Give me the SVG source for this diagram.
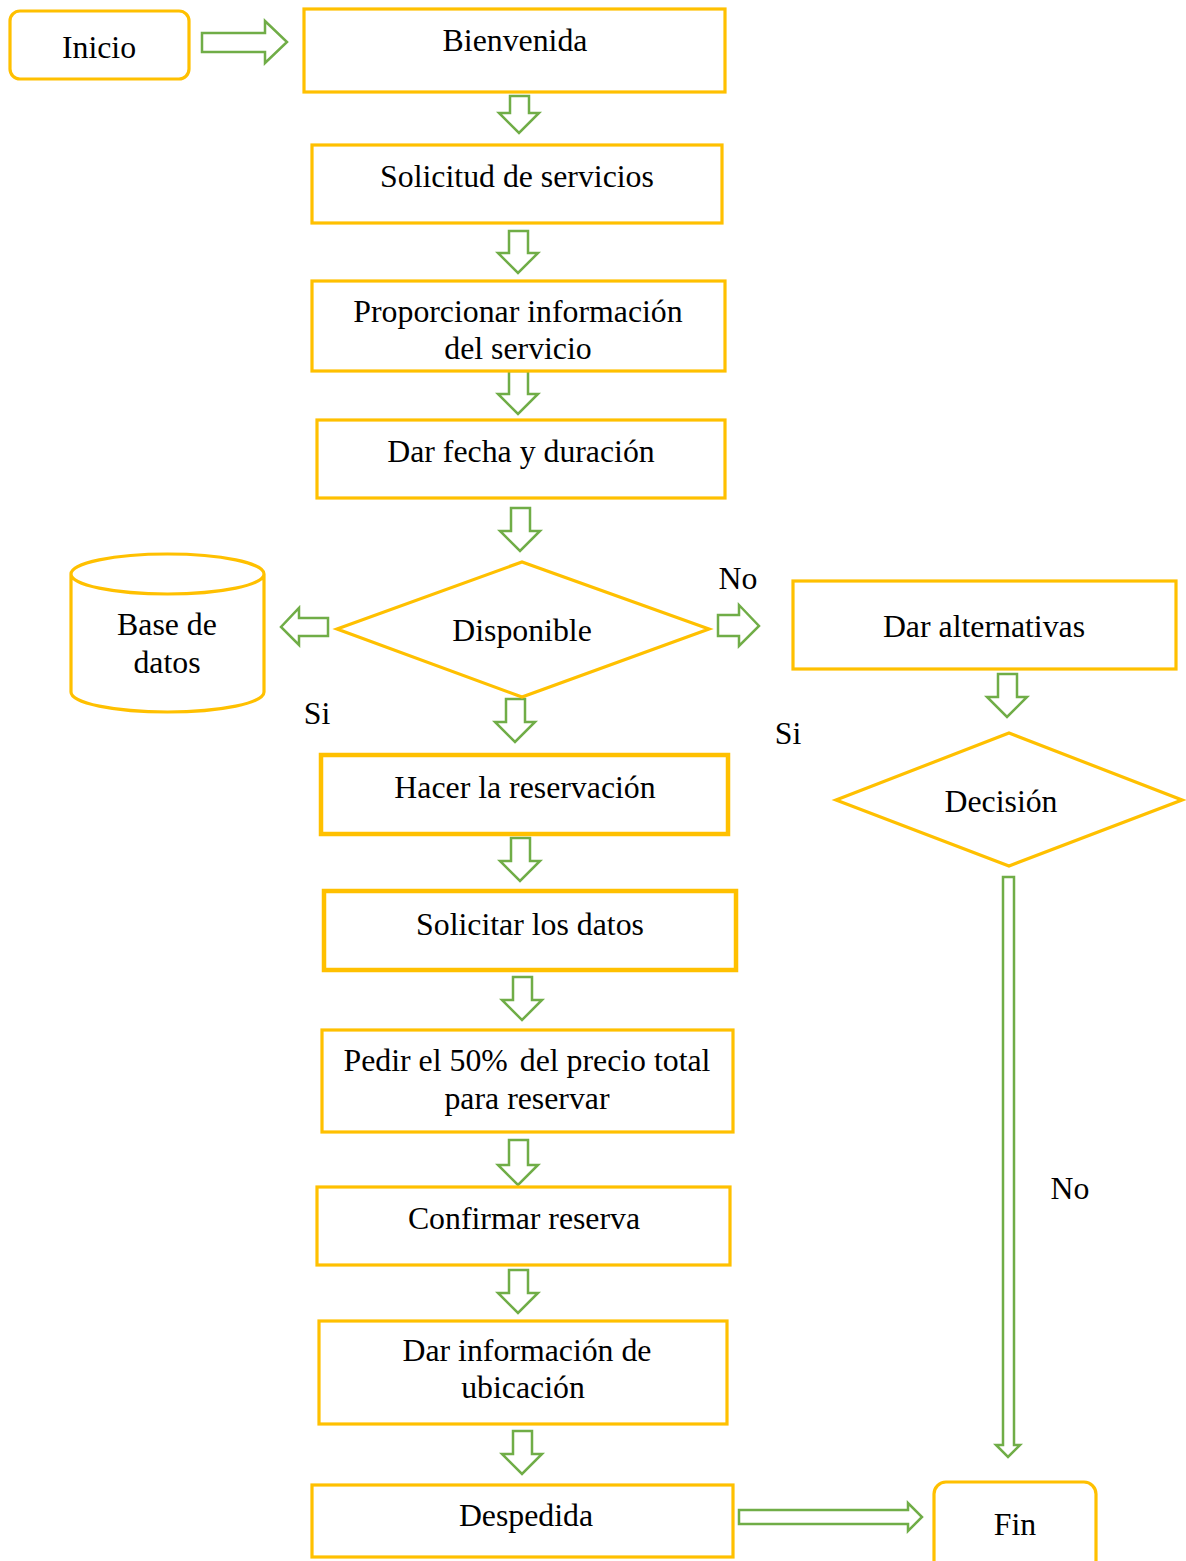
<svg xmlns="http://www.w3.org/2000/svg" width="1186" height="1561" viewBox="0 0 1186 1561">
<style>
.n{fill:#fff;stroke:#FFC000;stroke-width:3.2}
.nb{fill:#fff;stroke:#FFC000;stroke-width:4.5}
.t{font-family:"Liberation Serif","Times New Roman",serif;font-size:31.8px;fill:#000;text-anchor:middle}
.a{fill:#fff;stroke:#70AD47;stroke-width:2.5;stroke-linejoin:miter}
</style>
<rect width="1186" height="1561" fill="#fff"/>
<g id="connectors">
<polygon class="a" points="202,33 265,33 265,21 287,42 265,63 265,52 202,52"/>
<polygon class="a" points="510,96 529,96 529,113 539,113 519,133 499,113 510,113"/>
<polygon class="a" points="509,231 528,231 528,253 538,253 518,273 498,253 509,253"/>
<polygon class="a" points="509,371 528,371 528,394 538,394 518,414 498,394 509,394"/>
<polygon class="a" points="511,508 530,508 530,531 540,531 520,551 500,531 511,531"/>
<polygon class="a" points="506,699 525,699 525,722 535,722 515,742 495,722 506,722"/>
<polygon class="a" points="511,838 530,838 530,861 540,861 520,881 500,861 511,861"/>
<polygon class="a" points="513,977 532,977 532,1000 542,1000 522,1020 502,1000 513,1000"/>
<polygon class="a" points="509,1140 528,1140 528,1165 538,1165 518,1185 498,1165 509,1165"/>
<polygon class="a" points="509,1270 528,1270 528,1293 538,1293 518,1313 498,1293 509,1293"/>
<polygon class="a" points="513,1431 532,1431 532,1454 542,1454 522,1474 502,1454 513,1454"/>
<polygon class="a" points="998,674 1017,674 1017,697 1027,697 1007,717 987,697 998,697"/>
<polygon class="a" points="328,618 328,636 299,636 299,645 281,627 299,608 299,618"/>
<polygon class="a" points="718,615 739,615 739,605 759,626 739,646 739,636 718,636"/>
<polygon class="a" points="1003,877 1014,877 1014,1445 1020,1445 1008,1457 996,1445 1003,1445"/>
<polygon class="a" points="739,1510 908,1510 908,1503 922,1517 908,1531 908,1524 739,1524"/>
</g>
<g id="inicio"><rect class="n" x="10" y="11" width="179" height="68" rx="10"/><text class="t" x="99" y="58">Inicio</text></g>
<g id="bienvenida"><rect class="n" x="304" y="9" width="421" height="83"/><text class="t" x="515" y="51">Bienvenida</text></g>
<g id="solicitud"><rect class="n" x="312" y="145" width="410" height="78"/><text class="t" x="517" y="187">Solicitud de servicios</text></g>
<g id="proporcionar"><rect class="n" x="312" y="281" width="413" height="90"/><text class="t" x="518" y="322">Proporcionar información</text><text class="t" x="518" y="359">del servicio</text></g>
<g id="fecha"><rect class="n" x="317" y="420" width="408" height="78"/><text class="t" x="521" y="462">Dar fecha y duración</text></g>
<g id="disponible"><polygon class="n" points="337,629 522,562 709,629 522,697"/><text class="t" x="522" y="641">Disponible</text></g>
<g id="basedatos"><path class="n" d="M71,574 L71,692 A96.5,20 0 0 0 264,692 L264,574 A96.5,20 0 0 0 71,574 A96.5,20 0 0 0 264,574"/><text class="t" x="167" y="635">Base de</text><text class="t" x="167" y="673">datos</text></g>
<g id="alternativas"><rect class="n" x="793" y="581" width="383" height="88"/><text class="t" x="984" y="637">Dar alternativas</text></g>
<g id="decision"><polygon class="n" points="836,800 1009,733 1182,800 1009,866"/><text class="t" x="1001" y="812">Decisión</text></g>
<g id="reservacion"><rect class="nb" x="321" y="755" width="407" height="79"/><text class="t" x="525" y="798">Hacer la reservación</text></g>
<g id="solicitar"><rect class="nb" x="324" y="891" width="412" height="79"/><text class="t" x="530" y="935">Solicitar los datos</text></g>
<g id="pedir"><rect class="n" x="322" y="1030" width="411" height="102"/><text class="t" x="527" y="1071">Pedir el 50% <tspan dx="4">del precio total</tspan></text><text class="t" x="527" y="1109">para reservar</text></g>
<g id="confirmar"><rect class="n" x="317" y="1187" width="413" height="78"/><text class="t" x="524" y="1229">Confirmar reserva</text></g>
<g id="ubicacion"><rect class="n" x="319" y="1321" width="408" height="103"/><text class="t" x="527" y="1361">Dar información de</text><text class="t" x="523" y="1398">ubicación</text></g>
<g id="despedida"><rect class="n" x="312" y="1485" width="421" height="72"/><text class="t" x="526" y="1526">Despedida</text></g>
<g id="fin"><rect class="n" x="934" y="1482" width="162" height="90" rx="12"/><text class="t" x="1015" y="1535">Fin</text></g>
<g id="labels">
<text class="t" x="738" y="589">No</text>
<text class="t" x="317" y="724">Si</text>
<text class="t" x="788" y="744">Si</text>
<text class="t" x="1070" y="1199">No</text>
</g>
</svg>
